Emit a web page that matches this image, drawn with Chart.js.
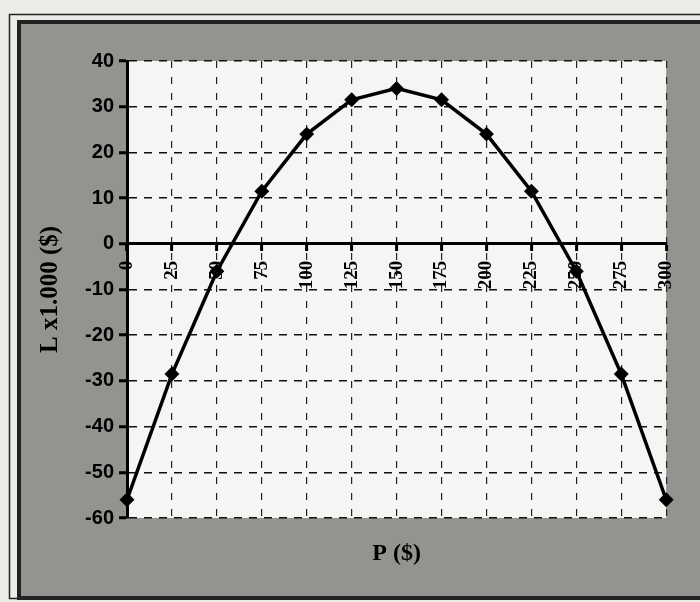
<!DOCTYPE html>
<html>
<head>
<meta charset="utf-8">
<script src="https://cdn.jsdelivr.net/npm/chart.js@4"></script>
<style>
  html, body { margin: 0; padding: 0; background: #eaece8; }
  #chart { display: block; }
</style>
</head>
<body>
<canvas id="chart" width="700" height="602"></canvas>
<script>
// P ($) on the x axis, L x1.000 ($) on the y axis
const prices = [0, 25, 50, 75, 100, 125, 150, 175, 200, 225, 250, 275, 300];
const profit = [-56, -28.5, -6, 11.5, 24, 31.5, 34, 31.5, 24, 11.5, -6, -28.5, -56];

const xTitle = 'P ($)';
const yTitle = 'L x1.000 ($)';

const points = prices.map((p, i) => ({ x: p, y: profit[i] }));

// grey scanned frame and white plot area behind the chart
const framePlugin = {
    id: 'frame',
    beforeDraw(chart) {
        const ctx = chart.ctx;
        const a = chart.chartArea;
        ctx.save();
        ctx.fillStyle = '#eaece8';
        ctx.fillRect(0, 0, chart.width, chart.height);
        ctx.fillStyle = '#939390';
        ctx.fillRect(20, 23, 680, 575);
        ctx.strokeStyle = '#222';
        ctx.lineWidth = 1.5;
        ctx.strokeRect(9.5, 14.5, 700, 584);
        ctx.lineWidth = 4;
        ctx.strokeRect(19, 22, 690, 576);
        ctx.fillStyle = '#f5f6f3';
        ctx.fillRect(a.left, a.top, a.right - a.left, a.bottom - a.top);
        ctx.restore();
    }
};

new Chart(document.getElementById('chart'), {
    type: 'line',
    data: {
        datasets: [{
            data: points,
            borderColor: '#000',
            borderWidth: 3.5,
            pointStyle: 'rectRot',
            pointRadius: 5,
            pointBackgroundColor: '#000',
            pointBorderColor: '#000',
            tension: 0,
            clip: false
        }]
    },
    options: {
        responsive: false,
        animation: false,
        layout: { padding: { left: 25, right: 33, top: 61, bottom: 34 } },
        plugins: { legend: { display: false }, tooltip: { enabled: false } },
        scales: {
            x: {
                type: 'linear',
                position: { y: 0 },
                min: 0,
                max: 300,
                afterFit(scale) { scale.height = 0; },
                ticks: {
                    stepSize: 25,
                    autoSkip: false,
                    minRotation: 90,
                    maxRotation: 90,
                    padding: 11,
                    color: '#000',
                    font: { family: 'Liberation Serif', size: 19, weight: 'bold' }
                },
                grid: {
                    color: '#222',
                    lineWidth: 1.2,
                    tickLength: 6,
                    tickWidth: 3,
                    tickColor: '#000'
                },
                border: { color: '#000', width: 3, dash: [7, 9] }
            },
            x2: {
                type: 'linear',
                position: 'bottom',
                min: 0,
                max: 300,
                afterFit(scale) { scale.height = 50; },
                ticks: { display: false },
                grid: { display: false, drawTicks: false },
                border: { display: false },
                title: {
                    display: true,
                    text: xTitle,
                    color: '#000',
                    padding: { top: 0, bottom: 0 },
                    font: { family: 'Liberation Serif', size: 24, weight: 'bold' }
                }
            },
            y: {
                min: -60,
                max: 40,
                afterFit(scale) { scale.width = 102; },
                ticks: {
                    stepSize: 10,
                    padding: 5,
                    color: '#000',
                    font: { family: 'Liberation Sans', size: 20, weight: 'bold' }
                },
                grid: {
                    color: '#111',
                    lineWidth: 1.5,
                    tickLength: 8,
                    tickWidth: 3,
                    tickColor: '#000'
                },
                border: { color: '#000', width: 3, dash: [8, 7] },
                title: {
                    display: true,
                    text: yTitle,
                    color: '#000',
                    padding: { top: 11, bottom: 0 },
                    font: { family: 'Liberation Serif', size: 25, weight: 'bold' }
                }
            }
        }
    },
    plugins: [framePlugin]
});
</script>
</body>
</html>
